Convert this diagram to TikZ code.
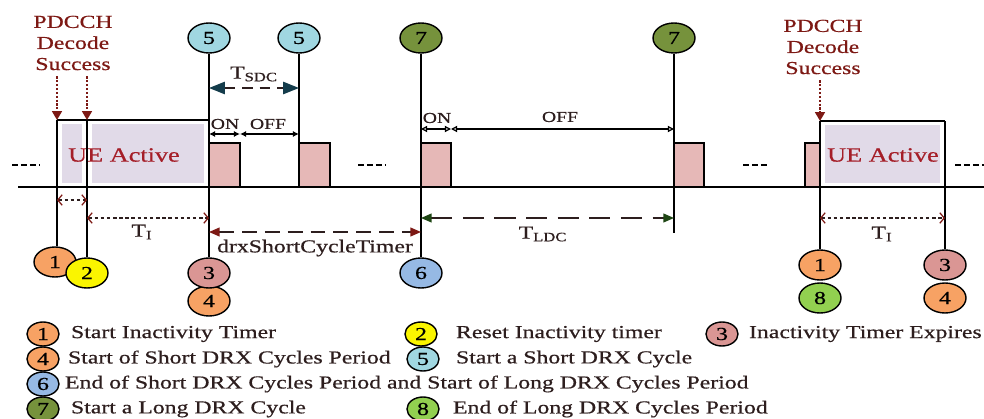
\documentclass[tikz,border=0pt]{standalone}
\usepackage{fontspec}
\setmainfont{Liberation Serif}[FakeStretch=1.3,FakeBold=0.6]
\usetikzlibrary{arrows.meta,positioning,shapes.geometric}
\definecolor{uepurple}{RGB}{225,218,232}
\definecolor{onpink}{RGB}{230,184,183}
\definecolor{pdcchred}{RGB}{125,25,20}
\definecolor{uered}{RGB}{165,30,40}
\definecolor{evorange}{RGB}{247,162,100}
\definecolor{evyellow}{RGB}{250,245,0}
\definecolor{evrose}{RGB}{218,150,148}
\definecolor{evcyan}{RGB}{160,215,225}
\definecolor{evblue}{RGB}{150,185,228}
\definecolor{evolive}{RGB}{118,146,60}
\definecolor{evgreen}{RGB}{146,208,80}
\definecolor{tsdcteal}{RGB}{20,60,75}
\definecolor{tldcgreen}{RGB}{30,70,20}
\definecolor{darktxt}{RGB}{45,30,30}
\newcommand{\drxfont}{\fontsize{10.4pt}{12pt}\selectfont}
\newcommand{\onfont}{\fontsize{8.6pt}{10pt}\selectfont}

\begin{document}
\begin{tikzpicture}[
    x=0.02cm, y=-0.02cm,
    evt/.style={ellipse, draw, thick, fill=#1, minimum width=0.84cm, minimum height=0.6cm, inner sep=0pt, font=\drxfont},
    key/.style={ellipse, draw, thick, fill=#1, minimum width=0.64cm, minimum height=0.48cm, inner sep=0pt, font=\drxfont},
    lgd/.style={inner sep=0pt, font=\drxfont, text=darktxt},
    tl/.style={line width=0.9pt},
    pulse/.style={draw, line width=0.8pt, fill=onpink},
    gap/.style={line width=1.2pt, dash pattern=on 3.4pt off 1.7pt},
    lbl/.style={font=\drxfont, text=darktxt, inner sep=1pt},
    onlbl/.style={font=\onfont, text=darktxt, inner sep=1pt},
    uetxt/.style={font=\fontsize{11.5pt}{13pt}\selectfont, text=uered},
    pdtxt/.style={font=\drxfont, text=pdcchred, align=center},
    pdarr/.style={draw=pdcchred, line width=1.2pt, densely dotted, -{Triangle[length=5pt,width=5.5pt]}},
    dotarr/.style={draw=darktxt, line width=0.7pt, dash pattern=on 2pt off 1.5pt, {Straight Barb[length=2.5pt,width=6pt,color=pdcchred]}-{Straight Barb[length=2.5pt,width=6pt,color=pdcchred]}},
    drxarr/.style={draw=darktxt, line width=0.8pt, dash pattern=on 8.5pt off 4.5pt, {Triangle[length=6pt,width=5pt,color=pdcchred]}-{Triangle[length=6pt,width=5pt,color=pdcchred]}},
    ldcarr/.style={draw=darktxt, line width=0.8pt, dash pattern=on 12pt off 6pt, {Triangle[length=6pt,width=5pt,color=tldcgreen]}-{Triangle[length=6pt,width=5pt,color=tldcgreen]}},
    sdcarr/.style={draw=darktxt, line width=0.8pt, dash pattern=on 6pt off 4pt, {Triangle[length=9pt,width=7pt,color=tsdcteal]}-{Triangle[length=9pt,width=7pt,color=tsdcteal]}},
    onarr/.style={line width=0.7pt, {Latex[length=3.5pt,width=3.5pt]}-{Latex[length=3.5pt,width=3.5pt]}},
    onarrb/.style={line width=0.7pt, {Triangle[open,length=3.5pt,width=3.5pt]}-{Triangle[open,length=3.5pt,width=3.5pt]}}
]
\useasboundingbox (0,0) rectangle (984,419);

% time axis and active periods
\coordinate (ax0) at (18,187);
\coordinate (ax1) at (984,187);
\fill[uepurple] (62,124) rectangle (82,183);
\fill[uepurple] (92,124) rectangle (204,183);
\fill[uepurple] (825,125) rectangle (940,183);
\node[uetxt] (ue1) at (124,155) {UE Active};
\node[uetxt] (ue2) at (883,155) {UE Active};
\foreach \xa/\xb in {209/240, 299/330, 421/451, 674/704, 805/820}
    \draw[pulse] (\xa,187) rectangle (\xb,143);
\draw[tl] (ax0) -- (ax1);
\foreach \xa/\xb in {12/40, 358/385, 743/768, 955/984}
    \draw[gap] (\xa,165) -- (\xb,165);

% events
\node[evt=evcyan] (s5a) at (209,38) {5};
\node[evt=evcyan] (s5b) at (299,38) {5};
\node[evt=evolive] (s7a) at (421,38) {7};
\node[evt=evolive] (s7b) at (674,38) {7};
\node[evt=evorange] (b1) at (55,262) {1};
\node[evt=evyellow] (b2) at (87,273) {2};
\node[evt=evorange] (b4) at (209,301) {4};
\node[evt=evrose] (b3) at (209,273) {3};
\node[evt=evblue] (b6) at (421,273) {6};
\node[evt=evorange] (r1) at (820,265) {1};
\node[evt=evgreen] (r8) at (820,298) {8};
\node[evt=evorange] (r4) at (945,298) {4};
\node[evt=evrose] (r3) at (945,265) {3};

\coordinate (pa) at (57,120);
\coordinate (pb) at (87,120);
\coordinate (pc) at (820,121);
\coordinate (pd) at (945,121);
\coordinate (e7) at (674,233);
\draw[tl] (pa) -- (pa |- b1.north);
\draw[tl] (pb) -- (b2);
\draw[tl] (pa) -- (pa -| s5a);
\draw[tl] (s5a) -- (b3);
\draw[tl] (s5b) -- (s5b |- ax0);
\draw[tl] (s7a) -- (b6);
\draw[tl] (s7b) -- (e7);
\draw[tl] (pc) -- (pd);
\draw[tl] (pc) -- (r1);
\draw[tl] (pd) -- (r3);

% PDCCH
\node[pdtxt] (pd1) at (73,43) {PDCCH\\Decode\\Success};
\node[pdtxt] (pd2) at (823,47) {PDCCH\\Decode\\Success};
\draw[pdarr] (pd1.south -| pa) -- (pa);
\draw[pdarr] (pd1.south -| pb) -- (pb);
\draw[pdarr] (pd2.south -| pc) -- (pc);

% timers
\draw[sdcarr] (s5a |- 0,88) -- (s5b |- 0,88);
\node[lbl] (tsdc) at (254,74) {T\textsubscript{SDC}};
\coordinate (on1) at (240,134);
\draw[onarr] (s5a |- on1) -- (on1);
\draw[onarr] (on1) -- (s5b |- on1);
\node[onlbl] (on1t) at (225,124) {ON};
\node[onlbl] (off1t) at (268,124) {OFF};
\coordinate (on2) at (451,129);
\draw[onarrb] (s7a |- on2) -- (on2);
\draw[onarrb] (on2) -- (s7b |- on2);
\node[onlbl] (on2t) at (437,118) {ON};
\node[onlbl] (off2t) at (560,117) {OFF};

\draw[dotarr] (pa |- 0,200) -- (pb |- 0,200);
\draw[dotarr] (pb |- 0,218) -- (s5a |- 0,218);
\node[lbl] (ti1) at (142,232) {T\textsubscript{I}};
\draw[drxarr] (s5a |- 0,232) -- (s7a |- 0,232);
\node[lbl] (dst) at (315,248) {drxShortCycleTimer};
\draw[ldcarr] (s7a |- 0,218) -- (s7b |- 0,218);
\node[lbl] (tldc) at (543,234) {T\textsubscript{LDC}};
\draw[dotarr] (pc |- 0,218) -- (pd |- 0,218);
\node[lbl] (ti2) at (882,234) {T\textsubscript{I}};

% legend
\node[key=evorange] (k1) at (43,334) {1};
\node[lgd, right=0.22cm of k1] (l1) {Start Inactivity Timer};
\node[key=evyellow] (k2) at (421,334) {2};
\node[lgd, right=0.36cm of k2] (l2) {Reset Inactivity timer};
\node[key=evrose] (k3) at (722,334) {3};
\node[lgd, right=0.2cm of k3] (l3) {Inactivity Timer Expires};
\node[key=evorange] (k4) at (43,359) {4};
\node[lgd, right=0.16cm of k4] (l4) {Start of Short DRX Cycles Period};
\node[key=evcyan] (k5) at (423,359) {5};
\node[lgd, right=0.32cm of k5] (l5) {Start a Short DRX Cycle};
\node[key=evblue] (k6) at (43,384) {6};
\node[lgd, right=0.1cm of k6] (l6) {End of Short DRX Cycles Period and Start of Long DRX Cycles Period};
\node[key=evolive] (k7) at (43,409) {7};
\node[lgd, right=0.22cm of k7] (l7) {Start a Long DRX Cycle};
\node[key=evgreen] (k8) at (423,409) {8};
\node[lgd, right=0.26cm of k8] (l8) {End of Long DRX Cycles Period};
\end{tikzpicture}
\end{document}
